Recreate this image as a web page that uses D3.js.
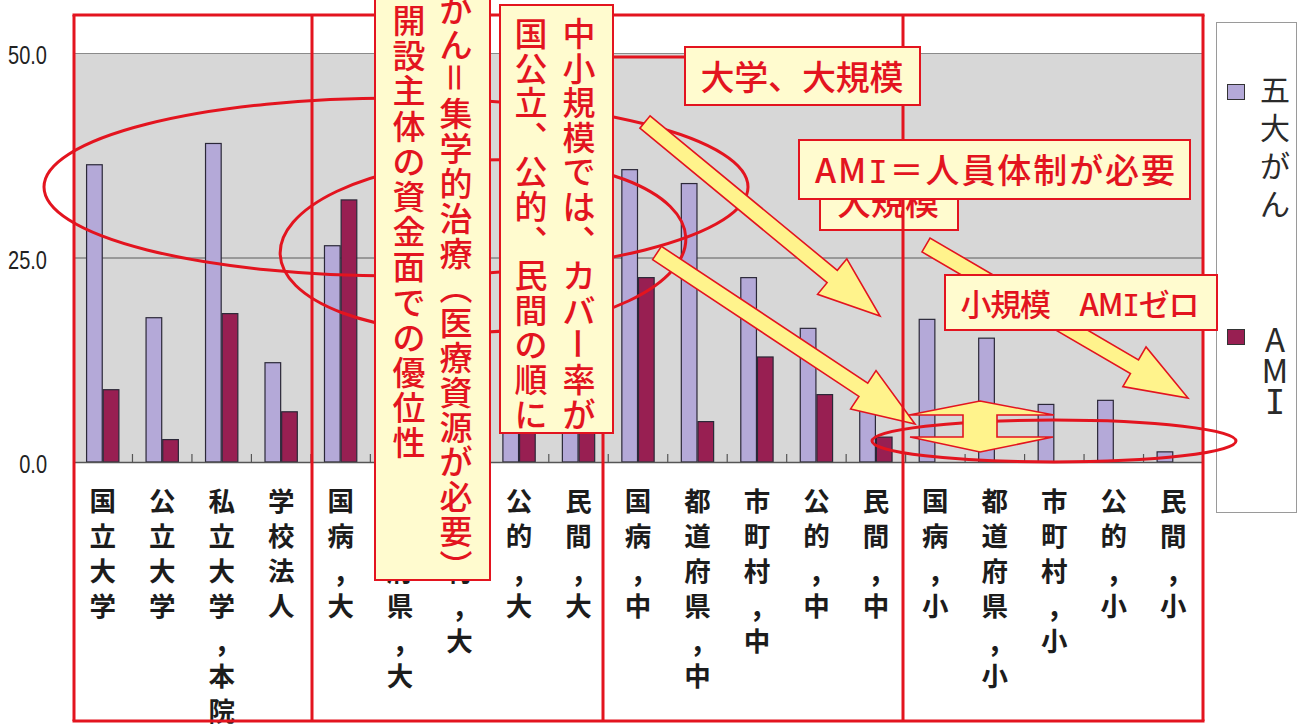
<!DOCTYPE html>
<html><head><meta charset="utf-8">
<script src="https://cdn.jsdelivr.net/npm/d3@7"></script>
<style>
html,body{margin:0;padding:0;background:#fff;overflow:hidden}
svg{display:block}
</style></head><body>
<svg id="chart" width="1302" height="724"></svg>
<script>
// ---------- data ----------
const categories = ["国立大学","公立大学","私立大学,本院","学校法人",
  "国病,大","都道府県,大","市町村,大","公的,大","民間,大",
  "国病,中","都道府県,中","市町村,中","公的,中","民間,中",
  "国病,小","都道府県,小","市町村,小","公的,小","民間,小"];
const seriesNames = ["五大がん","AMI"];
const gotaiGanValues = [36.4,17.7,39.0,12.2, 26.5,30.0,25.0,30.0,24.0, 35.8,34.1,22.6,16.4,9.5, 17.5,15.2,7.1,7.6,1.3];
const amiValues      = [8.9,2.8,18.2,6.2, 32.1,16.0,12.0,20.0,14.0, 22.6,5.0,12.9,8.3,3.1, 0,0,0,0,0];
const yTickValues = [0,25,50];

// ---------- layout / style ----------
const plot = {left:73, right:1203, top:53, bottom:462};
const colors = {"五大がん":"#b4a9d8","AMI":"#981f52"};
const RED = "#e3141f";
const BOXFILL = "#fffbcf";
const ARROWFILL = "#fff38c";
const JP = '"Noto Sans CJK JP","Noto Sans CJK SC",sans-serif';

const svg = d3.select("#chart");
const x = d3.scaleBand().domain(categories).range([plot.left, plot.right]).paddingInner(0.44).paddingOuter(0.22);
const xs = d3.scaleBand().domain(seriesNames).range([0, x.bandwidth()]);
const y = d3.scaleLinear().domain([0,50]).range([plot.bottom, plot.top]);
const step = x.step();

// plot background
svg.append("rect").attr("x",plot.left).attr("y",y(50)).attr("width",plot.right-plot.left)
  .attr("height",y(0)-y(50)).attr("fill","#d7d7d7");
// gridlines
svg.append("g").selectAll("line").data(yTickValues.filter(v=>v>0)).join("line")
  .attr("x1",plot.left).attr("x2",plot.right).attr("y1",d=>y(d)+0.5).attr("y2",d=>y(d)+0.5)
  .attr("stroke",d=>d===50?"#8a8a8a":"#5a5a5a").attr("stroke-width",1);

// bars
const rows = categories.map((c,i)=>({cat:c, values:[{s:seriesNames[0],v:gotaiGanValues[i]},{s:seriesNames[1],v:amiValues[i]}]}));
svg.append("g").selectAll("g").data(rows).join("g")
  .attr("transform",d=>`translate(${x(d.cat)},0)`)
  .selectAll("rect").data(d=>d.values.filter(e=>e.v>0)).join("rect")
  .attr("x",e=>xs(e.s)+0.5).attr("y",e=>y(e.v)+0.5).attr("width",xs.bandwidth()-1)
  .attr("height",e=>y(0)-y(e.v)-0.5)
  .attr("fill",e=>colors[e.s]).attr("stroke","#2b2838").attr("stroke-width",1.2);

// x axis line and boundary ticks
svg.append("line").attr("x1",plot.left).attr("x2",plot.right).attr("y1",y(0)+0.5).attr("y2",y(0)+0.5)
  .attr("stroke","#555").attr("stroke-width",1.5);
svg.append("g").selectAll("line").data(d3.range(1,categories.length)).join("line")
  .attr("x1",i=>plot.left+i*step).attr("x2",i=>plot.left+i*step)
  .attr("y1",y(0)).attr("y2",y(0)-8).attr("stroke","#555").attr("stroke-width",1.2);

// y tick labels
const fmt = d3.format(".1f");
svg.append("g").selectAll("text").data(yTickValues).join("text")
  .attr("transform",d=>`translate(47,${y(d)+3}) scale(0.8,1)`)
  .attr("text-anchor","end").attr("dominant-baseline","central")
  .attr("font-family","Liberation Sans, Arial, sans-serif").attr("font-size",25).attr("fill","#222")
  .text(d=>fmt(d));

// category labels (vertical)
const labG = svg.append("g");
categories.forEach(c=>{
  const cx = x(c)+x.bandwidth()/2;
  [...c].forEach((ch,j)=>{
    const cy = 499 + j*35;
    const t = labG.append("text").attr("x",cx).attr("text-anchor","middle")
      .attr("font-family",JP).attr("font-weight",700).attr("font-size",26.5).attr("fill","#1c1c1c");
    if(ch===","){ t.attr("y",cy+12).attr("font-size",28).text(","); }
    else { t.attr("y",cy).attr("dominant-baseline","central").text(ch); }
  });
});

// ---------- legend ----------
const leg = svg.append("g");
leg.append("rect").attr("x",1216.5).attr("y",22.5).attr("width",80).attr("height",490)
  .attr("fill","#fff").attr("stroke","#9a9a9a").attr("stroke-width",1);
const legendItems = [
  {name:seriesNames[0], sy:84, y0:90, stp:37.7},
  {name:seriesNames[1], sy:329, y0:340, stp:31}
];
legendItems.forEach(it=>{
  leg.append("rect").attr("x",1227.5).attr("y",it.sy+0.5).attr("width",17).attr("height",15)
    .attr("fill",colors[it.name]).attr("stroke","#333").attr("stroke-width",1);
  [...it.name].forEach((ch,j)=>{
    const isI = ch==="I";
    const isLatin = /[A-Z]/.test(ch);
    const fs = isI?34:(isLatin?33:30);
    leg.append("text").attr("x",1275).attr("y",it.y0+j*it.stp+(isLatin?0.36*fs:0.38*fs))
      .attr("text-anchor","middle")
      .attr("font-family",isI?"DejaVu Sans Mono":JP).attr("font-size",fs).attr("fill","#2a2a2a").text(ch);
  });
});

// ---------- annotations ----------
const ann = svg.append("g");
function ellipse(cx,cy,rx,ry,rot){
  ann.append("ellipse").attr("cx",cx).attr("cy",cy).attr("rx",rx).attr("ry",ry)
    .attr("transform",`rotate(${rot||0},${cx},${cy})`)
    .attr("fill","none").attr("stroke",RED).attr("stroke-width",3);
}
function arrow(x1,y1,x2,y2,sw,hw,hl){
  const dx=x2-x1, dy=y2-y1, L=Math.hypot(dx,dy), ux=dx/L, uy=dy/L, px=-uy, py=ux;
  const bx=x2-ux*hl, by=y2-uy*hl;
  const pts=[[x1+px*sw/2,y1+py*sw/2],[bx+px*sw/2,by+py*sw/2],[bx+px*hw/2,by+py*hw/2],[x2,y2],
    [bx-px*hw/2,by-py*hw/2],[bx-px*sw/2,by-py*sw/2],[x1-px*sw/2,y1-py*sw/2]];
  ann.append("polygon").attr("points",pts.map(p=>p.join(",")).join(" "))
    .attr("fill",ARROWFILL).attr("stroke",RED).attr("stroke-width",1.6).attr("stroke-linejoin","miter");
}
function box(x0,y0,w,h){
  ann.append("rect").attr("x",x0).attr("y",y0).attr("width",w).attr("height",h)
    .attr("fill",BOXFILL).attr("stroke",RED).attr("stroke-width",2);
}
// horizontal text: parts = [[string, isSerifI], ...]
function hText(parts,cx,cy,size,len){
  const t = ann.append("text").attr("x",cx).attr("y",cy+0.38*size).attr("text-anchor","middle")
    .attr("font-family",JP).attr("font-weight",500).attr("font-size",size).attr("fill",RED);
  if(len){ t.attr("textLength",len).attr("lengthAdjust","spacing"); }
  parts.forEach(p=>{
    const s = t.append("tspan").text(p[0]);
    if(p[1]) s.attr("font-family","DejaVu Sans Mono").attr("font-weight",400).attr("font-size",size*0.95);
  });
  return t;
}
function vText(str,cx,y0,stp,size,color){
  const map={"、":"︑","（":"︵","）":"︶"};
  [...str].forEach((ch,j)=>{
    const cy=y0+j*stp;
    const t=ann.append("text").attr("x",cx).attr("y",cy).attr("text-anchor","middle").attr("dominant-baseline","central")
      .attr("font-size",size).attr("font-weight",500).attr("fill",color).attr("font-family",JP);
    if(ch==="＝"||ch==="ー"){ t.text(ch).attr("transform",`rotate(90,${cx},${cy})`); }
    else t.text(map[ch]||ch);
  });
}

// ellipses
ellipse(396,187,352,89,0);
ellipse(483,246,203,86,-2.4);
ellipse(1054,441,182,21,0);

// arrows
arrow(645,122,880,316,16,46,62);
arrow(657,253,915,424,16,46,62);
arrow(926,245,1188,398,16,46,62);
ann.append("polygon")
  .attr("points",[[980,401],[1054,415],[997,415],[997,437],[1053,437],[980,452],[910,437],[963,437],[963,415],[909,415]].map(p=>p.join(",")).join(" "))
  .attr("fill",ARROWFILL).attr("stroke",RED).attr("stroke-width",1.6);

// hidden "大規模" box
box(820,170,138,60);
hText([["大規模"]],888,202,34);

// group frames
const frameXs=[74,312,603,903,1203], frameTop=15, frameBottom=721;
ann.selectAll("line.fv").data(frameXs).enter().append("line")
  .attr("x1",d=>d).attr("x2",d=>d).attr("y1",frameTop).attr("y2",frameBottom)
  .attr("stroke",RED).attr("stroke-width",3);
[frameTop,frameBottom].forEach(yy=>ann.append("line").attr("x1",frameXs[0]-1.5).attr("x2",frameXs[4]+1.5)
  .attr("y1",yy).attr("y2",yy).attr("stroke",RED).attr("stroke-width",3));

// box 1
box(375,-5,115,585);
vText("がん＝集学的治療（医療資源が必要）",456,8,34.8,33,RED);
vText("開設主体の資金面での優位性",409,19,35.2,33,RED);
// box 2
box(500,5,113,428);
vText("中小規模では、カバー率が",579,32,34.6,33,RED);
vText("国公立、公的、民間の順に",531,32,34.6,33,RED);
// connector line
ann.append("line").attr("x1",613).attr("x2",685).attr("y1",57).attr("y2",57).attr("stroke",RED).attr("stroke-width",3);
// box 3
box(685,47,235,58);
hText([["大学、大規模"]],802,77,34,203);
// box 5
box(799,140,391,59);
hText([["AM"],["I",true],["＝人員体制が必要"]],995,170,34,360);
// box 6
box(945,275,272,55);
hText([["小規模　AM"],["I",true],["ゼロ"]],1080,304,31,239);
</script>
</body></html>
